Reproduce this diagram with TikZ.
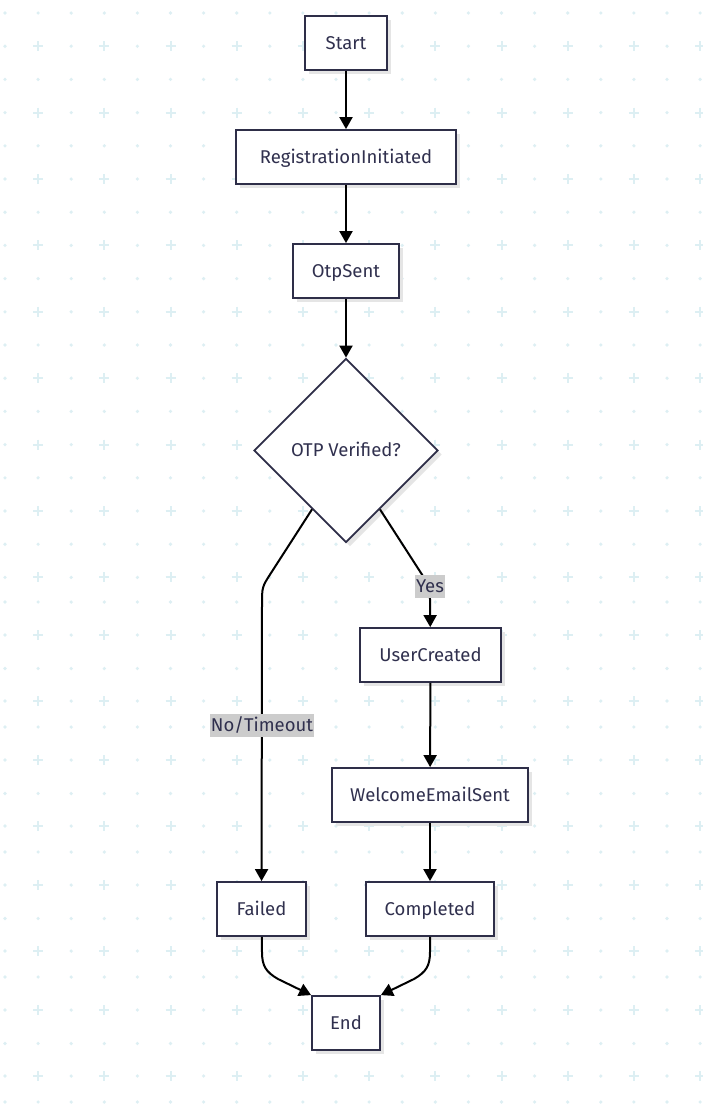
\documentclass[tikz,border=0pt]{standalone}
\usepackage{fontspec}
\setmainfont{Fira Sans}
\usetikzlibrary{shapes.geometric,arrows.meta,shadows}
\definecolor{boxline}{HTML}{2E2E48}
\definecolor{boxtext}{HTML}{30304E}
\definecolor{bgmark}{HTML}{DDEFF3}
\definecolor{lblfill}{HTML}{CCCCCC}
\begin{document}
\begin{tikzpicture}[x=1pt,y=-1pt,
  state/.style={draw=boxline,line width=1.8pt,fill=white,text=boxtext,minimum height=54pt,inner sep=0pt,
    text height=12.7pt,text depth=0pt,font=\fontsize{18.5}{22}\selectfont,
    drop shadow={shadow xshift=4pt,shadow yshift=-4pt,fill=black!10,opacity=1}},
  choice/.style={state,shape=diamond,aspect=1,minimum width=184pt,minimum height=184pt},
  edge/.style={line width=2pt,-{Triangle[length=12pt,width=13pt]}},
  lbl/.style={fill=lblfill,text=boxtext,inner xsep=1pt,inner ysep=0pt,minimum height=23pt,
    text height=12.7pt,text depth=0pt,font=\fontsize{18.5}{22}\selectfont}]
\useasboundingbox (0,0) rectangle (703,1114);
\fill[white] (0,0) rectangle (703,1114);
\foreach \y in {13,79.4,145.8,212.2,278.6,345,411.4,477.8,544.2,602,668.5,727,793.5,852,918.5,977,1043.5,1102}
  \foreach \i in {0,...,21}
    \fill[bgmark] ({5+33.1*\i},\y) circle[radius=1.8];
\foreach \y in {46.2,112.6,179,245.4,311.8,378.2,444.6,511,577.4,635,701,760,826,885,951,1010,1076} {
  \foreach \i in {0,2,...,20}
    \fill[bgmark] ({5+33.1*\i},\y) circle[radius=1.8];
  \foreach \i in {1,3,...,21}
    \draw[bgmark,line width=2pt] ({33.1*\i},\y) -- ({10+33.1*\i},\y) ({5+33.1*\i},{\y-5}) -- ({5+33.1*\i},{\y+5});
}
\node[state,minimum width=82pt] (start) at (346,43) {Start};
\node[state,minimum width=220pt] (reg) at (346,157) {RegistrationInitiated};
\node[state,minimum width=106pt] (otp) at (346,271) {OtpSent};
\node[choice] (dec) at (346,450.5) {OTP Verified?};
\node[state,minimum width=141pt] (user) at (430.5,655) {UserCreated};
\node[state,minimum width=196pt] (mail) at (430,795) {WelcomeEmailSent};
\node[state,minimum width=89pt] (failed) at (261.5,909) {Failed};
\node[state,minimum width=128pt] (done) at (430,909) {Completed};
\node[state,minimum width=68pt] (end) at (346,1023) {End};
\draw[edge] (start) -- (reg);
\draw[edge] (reg) -- (otp);
\draw[edge] (otp) -- (dec);
\draw[edge] (dec.-120) -- (271,573) .. controls (262,587) .. (262,605) -- (failed);
\draw[edge] (dec.-60) -- (421,573) .. controls (430,587) .. (430,600) -- (user);
\draw[edge] (user) -- (mail);
\draw[edge] (mail) -- (done);
\draw[edge] (failed) -- (262,952) .. controls (262,966) and (266,972) .. (278,979) -- (end.north west);
\draw[edge] (done) -- (430,952) .. controls (430,966) and (426,972) .. (414,979) -- (end.north east);
\node[lbl] (yes) at (430,586) {Yes};
\node[lbl] (fail) at (262,725.5) {No/Timeout};
\end{tikzpicture}
\end{document}
